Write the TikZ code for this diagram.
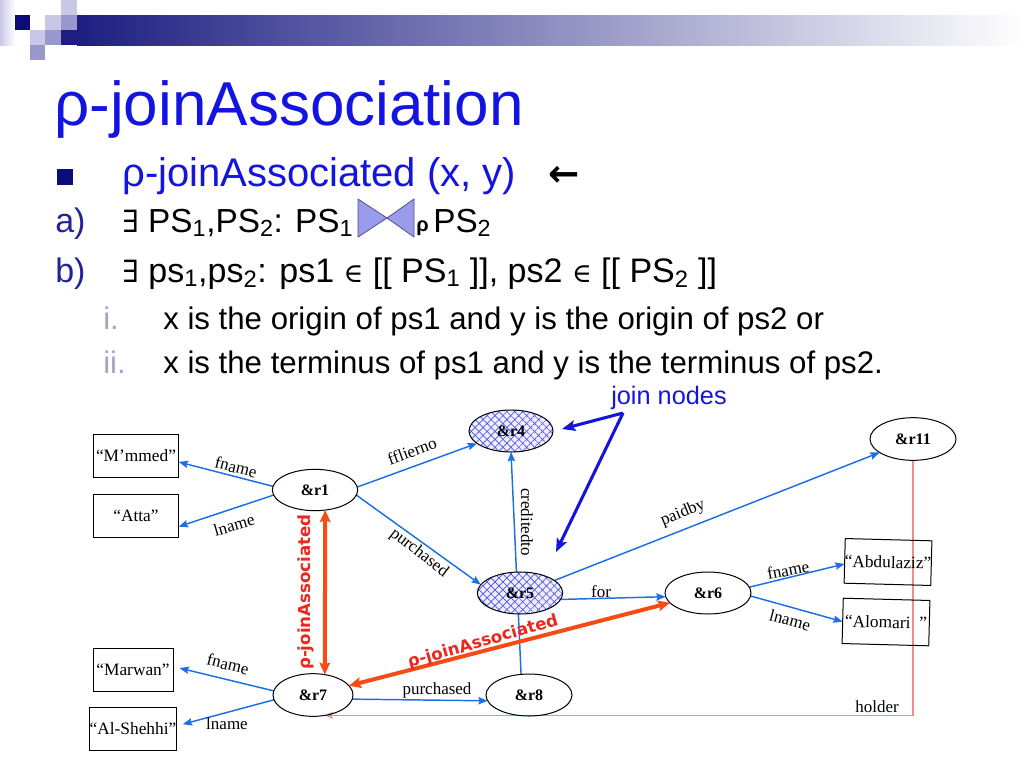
\documentclass[tikz,border=0pt]{standalone}
\usepackage{fontspec}
\setmainfont{Liberation Sans}
\newfontfamily\tms{Liberation Serif}
\newfontfamily\dvsr{DejaVu Serif}
\newfontfamily\dvsb{DejaVu Sans}
\usetikzlibrary{shapes.geometric,arrows.meta,patterns.meta,backgrounds}

\definecolor{edgeblue}{RGB}{30,110,230}
\definecolor{titleblue}{RGB}{20,20,225}
\definecolor{labblue}{RGB}{35,35,150}
\definecolor{navy}{RGB}{12,12,120}
\definecolor{barnavy}{RGB}{30,30,130}
\definecolor{barmid}{RGB}{150,150,180}
\definecolor{lav}{RGB}{200,200,230}
\definecolor{midlav}{RGB}{152,152,204}
\definecolor{subgray}{RGB}{165,165,195}
\definecolor{rhored}{RGB}{235,40,30}
\definecolor{rhoarrow}{RGB}{245,75,20}
\definecolor{holderpink}{RGB}{240,140,140}
\definecolor{joinblue}{RGB}{20,20,220}
\definecolor{bowfill}{RGB}{155,155,235}
\definecolor{bowline}{RGB}{80,80,140}
\definecolor{hatchblue}{RGB}{80,80,225}
\definecolor{hatchbg}{RGB}{238,238,255}

\begin{document}
\begin{tikzpicture}[x=0.75pt,y=-0.75pt,
  ent/.style={ellipse, draw, line width=0.75pt, inner sep=0pt, outer sep=0pt,
    minimum width=64pt, minimum height=31pt, font=\tms\bfseries\fontsize{12}{12}\selectfont},
  lit/.style={rectangle, draw, line width=0.75pt, inner sep=0pt, outer sep=0pt,
    minimum width=64pt, minimum height=32pt, font=\tms\fontsize{13}{13}\selectfont},
  hatch/.style={preaction={fill=hatchbg},
    preaction={pattern={Lines[angle=45,distance=4.2pt,line width=0.5pt]}, pattern color=hatchblue},
    pattern={Lines[angle=-45,distance=4.2pt,line width=0.5pt]}, pattern color=hatchblue},
  lab/.style={font=\tms\fontsize{12.75}{12.75}\selectfont, inner sep=0pt},
  rel/.style={draw=edgeblue, line width=1.1pt, -{Stealth[length=7pt,width=5.5pt,inset=1pt]}},
  rhoarr/.style={draw=rhoarrow, line width=3pt,
    {Stealth[length=9pt,width=8pt,inset=1.5pt]}-{Stealth[length=9pt,width=8pt,inset=1.5pt]}},
  rholab/.style={text=rhored, font=\dvsb\bfseries\fontsize{12.5}{12.5}\selectfont, inner sep=0pt},
  joinarr/.style={draw=joinblue, line width=2.3pt, -{Stealth[length=10pt,width=8pt,inset=2pt]}},
  txt/.style={anchor=base west, inner sep=0pt},
]
\useasboundingbox (0,0) rectangle (1024,768);

% ---- header decoration
\shade[left color=lav, right color=white] (0,0) rectangle (15,45);
\shade[left color=barnavy, middle color=barmid, right color=white] (77,15) rectangle (1024,45);
\fill[barnavy] (61,30) rectangle (77,45);
\fill[navy] (15,15) rectangle (30,30);
\fill[lav] (45,15) rectangle (61,30);
\fill[midlav] (61,15) rectangle (77,30);
\fill[lav] (61,0) rectangle (77,15);
\fill[lav] (30,30) rectangle (45,45);
\fill[midlav] (45,30) rectangle (61,45);
\fill[midlav] (30,45) rectangle (45,60);

% ---- title and text
\node[txt, text=titleblue, font=\fontsize{46.5}{46.5}\selectfont] (title) at (54,125) {ρ-joinAssociation};
\fill[navy] (57,169) rectangle (73,185);
\node[txt, text=titleblue, font=\fontsize{30}{30}\selectfont] (lvl1) at (122,186) {ρ-joinAssociated (x, y)};
\node[txt, font=\dvsb\bfseries\fontsize{28}{28}\selectfont] (larr) at (548,186) {←};

\node[txt, text=labblue, font=\fontsize{25.5}{25.5}\selectfont] (la) at (55,232) {a)};
\node[txt, font=\fontsize{25}{25}\selectfont] (ta) at (122,232)
  {{\dvsr\fontsize{23}{23}\selectfont ∃} PS\textsubscript{1},PS\textsubscript{2}: PS\textsubscript{1}};
\fill[bowfill, draw=bowline, line width=0.6pt] (358,199) -- (387,218) -- (358,237) -- cycle;
\fill[bowfill, draw=bowline, line width=0.6pt] (414,199) -- (387,218) -- (414,237) -- cycle;
\node[txt, font=\bfseries\fontsize{15}{15}\selectfont] (rhob) at (416,231) {ρ};
\node[txt, font=\fontsize{25}{25}\selectfont] (ps2) at (433,232) {PS\textsubscript{2}};

\node[txt, text=labblue, font=\fontsize{25.5}{25.5}\selectfont] (lb) at (55,282) {b)};
\node[txt, font=\fontsize{25.5}{25.5}\selectfont] (tb) at (122,282)
  {{\dvsr\fontsize{23}{23}\selectfont ∃} ps\textsubscript{1},ps\textsubscript{2}: ps1 {\dvsr\fontsize{20}{20}\selectfont ∈} [[ PS\textsubscript{1} ]], ps2 {\dvsr\fontsize{20}{20}\selectfont ∈} [[ PS\textsubscript{2} ]]};

\node[txt, text=subgray, font=\fontsize{23.4}{23.4}\selectfont] (li) at (103,329) {i.};
\node[txt, font=\fontsize{23.4}{23.4}\selectfont] (ti) at (163,329) {x is the origin of ps1 and y is the origin of ps2 or};
\node[txt, text=subgray, font=\fontsize{23.4}{23.4}\selectfont] (lii) at (103,373) {ii.};
\node[txt, font=\fontsize{23.4}{23.4}\selectfont] (tii) at (163,373) {x is the terminus of ps1 and y is the terminus of ps2.};

% ---- graph nodes
\node[lit] (mm) at (136,456) {“M’mmed”};
\node[lit] (atta) at (136,516) {“Atta”};
\node[lit, minimum width=60pt] (mar) at (133,670) {“Marwan”};
\node[lit, minimum width=60pt] (alsh) at (133,729) {“Al-Shehhi”};
\node[lit, minimum width=65pt, minimum height=33.5pt, rotate=-1.5] (abd) at (888,562) {“Abdulaziz”};
\node[lit, minimum width=65pt, minimum height=34pt, rotate=-1.5] (alo) at (886,622) {“Alomari~~”};

\node[ent] (r1) at (315,490) {\&r1};
\node[ent, hatch, minimum width=63pt, minimum height=31.5pt] (r4) at (511,431) {\&r4};
\node[ent, hatch, minimum height=31.5pt] (r5) at (520,593) {\&r5};
\node[ent, minimum width=64.5pt, minimum height=31.5pt] (r6) at (708,593) {\&r6};
\node[ent, minimum width=64.5pt, minimum height=32pt] (r11) at (913,439) {\&r11};
\node[ent, minimum width=60pt, minimum height=32pt] (r7) at (313,695) {\&r7};
\node[ent, minimum width=64.5pt, minimum height=31.5pt] (r8) at (529,695) {\&r8};

% ---- edges (behind nodes)
\begin{pgfonlayer}{background}
\draw[rel] (r1.175) -- (mm.-8);
\draw[rel] (r1.187) -- (atta.-14);
\draw[rel] (r1.4) -- (r4.200);
\draw[rel] (r1.-7) -- (r5.168);
\draw[rel] (r8.111) -- (r4.south);
\draw[rel] (r5.20) -- (r11.202);
\draw[rel] (r5.-9) -- (r6.185);
\draw[rel] (r6.8) -- (abd.184);
\draw[rel] (r6.-4) -- (alo.181);
\draw[rel, shorten >=5pt] (r7.174) -- (mar.5);
\draw[rel, shorten >=5pt] (r7.187) -- (alsh.4);
\draw[rel] (r7.-6) -- (r8.188);
\draw[draw=holderpink, line width=1.1pt, -{Stealth[length=6pt,width=5pt,inset=1pt]}] (r11.south) |- (r7.-60);
\end{pgfonlayer}

% ---- edge labels
\node[lab, rotate=-14] (e1) at (236,467) {fname};
\node[lab, rotate=16] (e2) at (234,525) {lname};
\node[lab, rotate=20] (e3) at (412,451) {fflierno};
\node[lab, rotate=-38] (e4) at (419,553) {purchased};
\node[lab, rotate=-90] (e5) at (527,522) {creditedto};
\node[lab, rotate=22] (e6) at (683,513) {paidby};
\node[lab] (e7) at (601,592) {for};
\node[lab, rotate=11] (e8) at (788,570) {fname};
\node[lab, rotate=-15] (e9) at (790,620) {lname};
\node[lab, rotate=-14] (e10) at (228,664) {fname};
\node[lab] (e11) at (227,724) {lname};
\node[lab] (e12) at (437,690) {purchased};
\node[lab] (e13) at (877,707) {holder};

% ---- rho-joinAssociated
\draw[rhoarr] (r1.-63) -- (r7.60);
\draw[rhoarr] (r7) -- (r6);
\node[rholab, rotate=90] (rv) at (306,592) {ρ-joinAssociated};
\node[rholab, rotate=16] (rd) at (483,642) {ρ-joinAssociated};

% ---- join nodes
\node[text=joinblue, font=\fontsize{19}{19}\selectfont, inner sep=0pt, anchor=base] (jl) at (669,404) {join nodes};
\coordinate (jn) at (623,413);
\coordinate (ja) at (562,429);
\coordinate (jb) at (556,552);
\draw[joinarr] (jn) -- (ja);
\draw[joinarr] (jn) -- (jb);
\end{tikzpicture}
\end{document}
